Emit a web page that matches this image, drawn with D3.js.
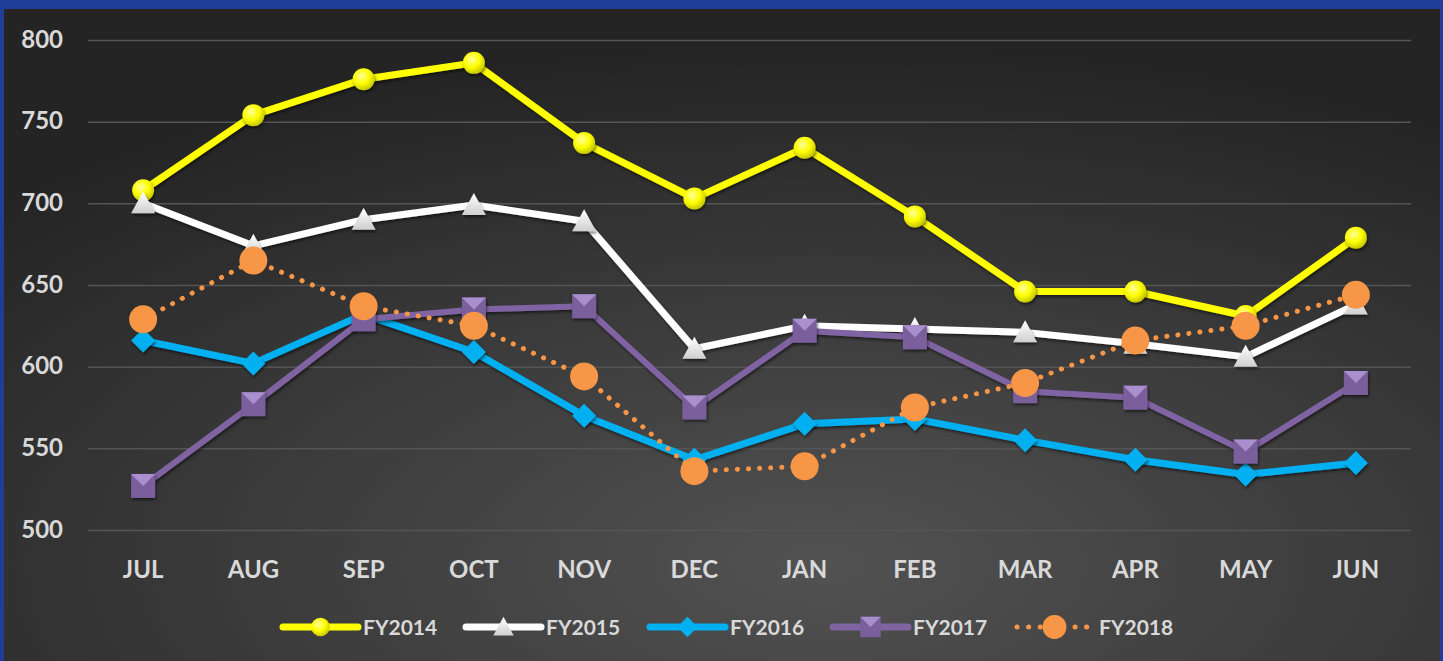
<!DOCTYPE html>
<html lang="en">
<head>
  <meta charset="UTF-8">
  <title>FY line chart</title>
  <style>
    html, body { margin: 0; padding: 0; background: #1f3d99; }
    svg { display: block; }
  </style>
</head>
<body>
  <svg width="1443" height="661" class="svgs"></svg>
  <script src="https://cdn.jsdelivr.net/npm/d3@7/dist/d3.min.js"></script>
  <script>
    const months = ['JUL', 'AUG', 'SEP', 'OCT', 'NOV', 'DEC', 'JAN', 'FEB', 'MAR', 'APR', 'MAY', 'JUN']
    const yTicks = [500, 550, 600, 650, 700, 750, 800]
    const fy2014 = [708, 754, 776, 786, 737, 703, 734, 692, 646, 646, 631, 679]
    const fy2015 = [700, 674, 690, 699, 689, 611, 625, 623, 621, 614, 606, 638]
    const fy2016 = [616, 602, 632, 609, 570, 543, 565, 568, 555, 543, 534, 541]
    const fy2017 = [527, 577, 629, 635, 637, 575, 622, 618, 585, 581, 548, 590]
    const fy2018 = [629, 665, 637, 625, 594, 536, 539, 575, 590, 616, 625, 644]

    const series = [
      { name: 'FY2014', values: fy2014, color: '#ffff00', marker: 'circle' },
      { name: 'FY2015', values: fy2015, color: '#ffffff', marker: 'triangle' },
      { name: 'FY2016', values: fy2016, color: '#00b0f0', marker: 'diamond' },
      { name: 'FY2017', values: fy2017, color: '#8064a2', marker: 'square' },
      { name: 'FY2018', values: fy2018, color: '#f79646', marker: 'dot' }
    ]

    const mainsvg = d3.select('.svgs')
    const width = +mainsvg.attr('width')
    const height = +mainsvg.attr('height')

    // chart area inside the blue frame
    const frame = { top: 9, left: 4, right: 3, bottom: 0 }
    const plot = { left: 88, right: 1411, top: 40, bottom: 530 }

    const defs = mainsvg.append('defs')

    const bg = defs.append('radialGradient').attr('id', 'bg')
      .attr('cx', '57%').attr('cy', '85%').attr('r', '80%')
    bg.append('stop').attr('offset', '0%').attr('stop-color', '#525252')
    bg.append('stop').attr('offset', '100%').attr('stop-color', '#242424')

    const yel = defs.append('radialGradient').attr('id', 'yel')
      .attr('cx', '40%').attr('cy', '35%').attr('r', '65%')
    yel.append('stop').attr('offset', '0%').attr('stop-color', '#ffff9a')
    yel.append('stop').attr('offset', '55%').attr('stop-color', '#ffff00')
    yel.append('stop').attr('offset', '100%').attr('stop-color', '#c8c800')

    const tri = defs.append('linearGradient').attr('id', 'tri')
      .attr('x1', 0).attr('y1', 0).attr('x2', 0).attr('y2', 1)
    tri.append('stop').attr('offset', '0%').attr('stop-color', '#ffffff')
    tri.append('stop').attr('offset', '100%').attr('stop-color', '#cfcfcf')

    const shadow = defs.append('filter').attr('id', 'shadow')
      .attr('x', '-50%').attr('y', '-50%').attr('width', '200%').attr('height', '200%')
    shadow.append('feDropShadow').attr('dx', 1).attr('dy', 2).attr('stdDeviation', 1.5)
      .attr('flood-color', '#000').attr('flood-opacity', 0.55)

    mainsvg.append('rect')
      .attr('x', frame.left).attr('y', frame.top)
      .attr('width', width - frame.left - frame.right)
      .attr('height', height - frame.top - frame.bottom)
      .attr('fill', 'url(#bg)')

    const xScale = d3.scaleBand()
      .domain(months)
      .range([plot.left, plot.right])

    const yScale = d3.scaleLinear()
      .domain([500, 800])
      .range([plot.bottom, plot.top])

    const xc = d => xScale(d) + xScale.bandwidth() / 2

    // gridlines
    const yAxis = d3.axisLeft(yScale).tickValues(yTicks).tickSize(-(plot.right - plot.left)).tickPadding(25)
    const ga = mainsvg.append('g')
      .attr('transform', `translate(${plot.left}, 0)`)
      .call(yAxis)
    ga.select('.domain').remove()
    ga.selectAll('.tick line').attr('stroke', '#555').attr('stroke-width', 1.5)
    ga.selectAll('.tick text')
      .attr('fill', '#d9d9d9')
      .attr('font-family', 'Lato, sans-serif')
      .attr('font-weight', 'bold')
      .attr('font-size', '24px')
      .attr('dy', '0.3em')

    const xAxis = d3.axisBottom(xScale).tickSize(0).tickPadding(31)
    const gx = mainsvg.append('g')
      .attr('transform', `translate(0, ${plot.bottom})`)
      .call(xAxis)
    gx.select('.domain').remove()
    gx.selectAll('.tick text')
      .attr('fill', '#d9d9d9')
      .attr('font-family', 'Lato, sans-serif')
      .attr('font-weight', 'bold')
      .attr('font-size', '24px')

    function drawMarker(sel, type, color) {
      if (type === 'circle') {
        sel.append('circle').attr('r', 11).attr('fill', 'url(#yel)')
      } else if (type === 'triangle') {
        sel.append('path').attr('d', 'M0,-12 L12,10 L-12,10 Z').attr('fill', 'url(#tri)')
      } else if (type === 'diamond') {
        sel.append('path').attr('d', 'M0,-12 L12,0 L0,12 L-12,0 Z').attr('fill', color)
      } else if (type === 'square') {
        sel.append('rect').attr('x', -12).attr('y', -12).attr('width', 24).attr('height', 24).attr('fill', '#7a5f9c')
        sel.append('path').attr('d', 'M-12,-12 L12,-12 L0,0 Z').attr('fill', '#a98fce')
      } else {
        sel.append('circle').attr('r', 14).attr('fill', color)
      }
    }

    const line = d3.line().x(d => xc(d.m)).y(d => yScale(d.v))

    series.forEach(s => {
      const pts = months.map((m, i) => ({ m, v: s.values[i] }))
      const g = mainsvg.append('g')
      const path = g.append('path')
        .attr('d', line(pts))
        .attr('fill', 'none')
        .attr('stroke', s.color)
        .attr('stroke-linejoin', 'round')
        .attr('stroke-linecap', 'round')
      if (s.marker === 'dot') {
        path.attr('stroke-width', 5).attr('stroke-dasharray', '0.1 11')
      } else {
        path.attr('stroke-width', s.marker === 'square' ? 6 : 7)
          .attr('filter', 'url(#shadow)')
      }
      pts.forEach(p => {
        const mk = g.append('g')
          .attr('transform', `translate(${xc(p.m)}, ${yScale(p.v)})`)
        if (s.marker !== 'dot') mk.attr('filter', 'url(#shadow)')
        drawMarker(mk, s.marker, s.color)
      })
    })

    // legend
    const legendX = [283, 466, 650, 833, 1017]
    const legendY = 627
    series.forEach((s, i) => {
      const lg = mainsvg.append('g').attr('transform', `translate(${legendX[i]}, ${legendY})`)
      const ln = lg.append('line')
        .attr('x1', 0).attr('x2', 75)
        .attr('stroke', s.color)
        .attr('stroke-linecap', 'round')
      if (s.marker === 'dot') {
        ln.attr('stroke-width', 5).attr('stroke-dasharray', '0.1 11.5')
      } else {
        ln.attr('stroke-width', 7)
      }
      const mk = lg.append('g').attr('transform', 'translate(37.5, 0) scale(0.85)')
      drawMarker(mk, s.marker, s.color)
      lg.append('text')
        .text(s.name)
        .attr('x', s.marker === 'dot' ? 82 : 80)
        .attr('dy', '0.36em')
        .attr('fill', '#d9d9d9')
        .attr('font-family', 'Lato, sans-serif')
        .attr('font-weight', 'bold')
        .attr('font-size', '21px')
    })
  </script>
</body>
</html>
